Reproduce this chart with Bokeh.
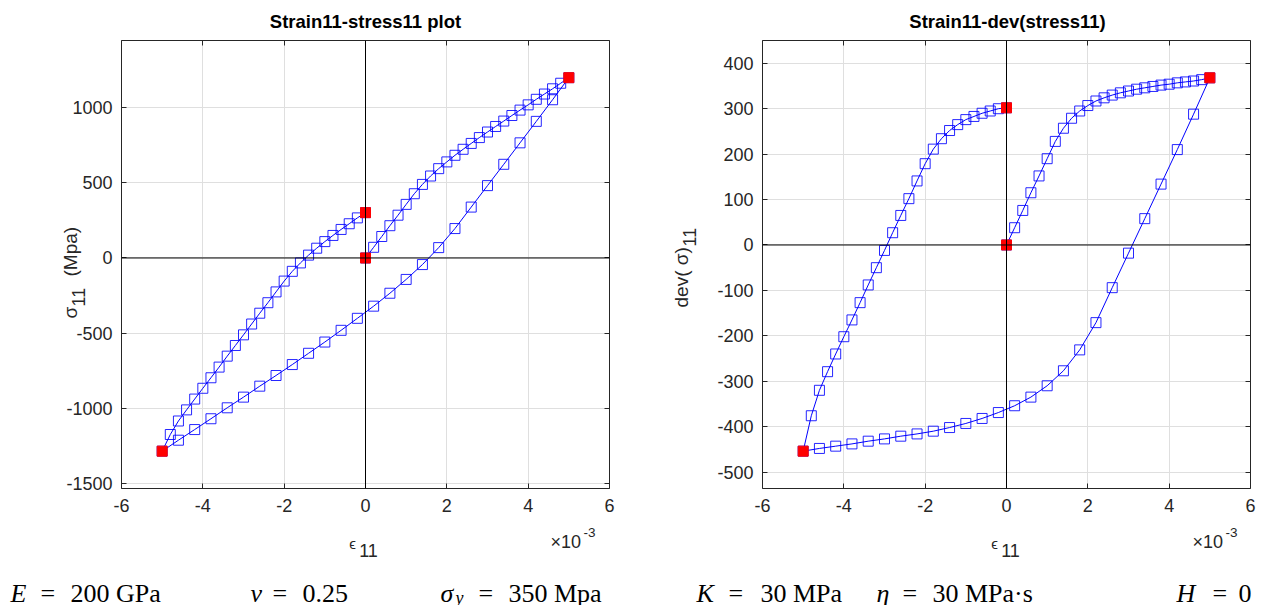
import math
from bokeh.plotting import figure
from bokeh.models import LinearAxis, FixedTicker, Span, Label, Range1d, GridBox
from bokeh.layouts import column
from bokeh.embed import file_html
from bokeh.resources import INLINE

# ---------------- data (strain in units of 1e-3, stress in MPa) ----------------
strain_load = [0.0, 0.2, 0.4, 0.6, 0.8, 1.0, 1.2, 1.4, 1.6, 1.8, 2.0, 2.2, 2.4, 2.6,
               2.8, 3.0, 3.2, 3.4, 3.6, 3.8, 4.0, 4.2, 4.4, 4.6, 4.8, 5.0]
strain_unload = [4.6, 4.2, 3.8, 3.4, 3.0, 2.6, 2.2, 1.8, 1.4, 1.0, 0.6, 0.2, -0.2,
                 -0.6, -1.0, -1.4, -1.8, -2.2, -2.6, -3.0, -3.4, -3.8, -4.2, -4.6, -5.0]
strain_reload = [-4.8, -4.6, -4.4, -4.2, -4.0, -3.8, -3.6, -3.4, -3.2, -3.0, -2.8, -2.6,
                 -2.4, -2.2, -2.0, -1.8, -1.6, -1.4, -1.2, -1.0, -0.8, -0.6, -0.4, -0.2, 0.0]

stress_load = [0, 71, 143, 215, 285, 357, 428, 490, 546, 595, 640, 684, 724, 763,
               802, 839, 876, 912, 949, 985, 1020, 1057, 1092, 1127, 1164, 1201]
stress_unload = [1054, 910, 767, 624, 482, 339, 196, 69, -44, -143, -235, -321, -402,
                 -482, -560, -635, -710, -783, -854, -927, -998, -1071, -1143, -1214, -1287]
stress_reload = [-1176, -1086, -1012, -940, -868, -798, -727, -654, -583, -512, -440, -368,
                 -298, -226, -154, -89, -33, 19, 65, 109, 150, 190, 228, 267, 302]

dev_load = [0, 38, 76, 115, 152, 190, 228, 257, 279, 295, 307, 317, 324, 330,
            335, 339, 343, 346, 349, 352, 354, 357, 359, 361, 364, 368]
dev_unload = [288, 210, 134, 58, -18, -94, -171, -231, -277, -310, -335, -354, -369,
              -382, -393, -402, -410, -416, -421, -427, -432, -438, -443, -448, -454]
dev_reload = [-376, -320, -279, -240, -202, -165, -127, -88, -50, -12, 27, 65,
              102, 141, 179, 211, 234, 252, 265, 276, 283, 290, 295, 300, 302]

x_ticks = [-6, -4, -2, 0, 2, 4, 6]
stress_ticks = [-1500, -1000, -500, 0, 500, 1000]
dev_ticks = [-500, -400, -300, -200, -100, 0, 100, 200, 300, 400]
stress_lim = (-1535.7, 1448.7)
dev_lim = (-536.2, 450.2)

# ---------------- style ----------------
AX = "#262626"
GRID = "#dfdfdf"
SANS = "Liberation Sans"
SERIF = "Liberation Serif"
W, H = 1264, 605
FRAME_TOP = 40
FRAME_BOTTOM = 488


def tick_text(ticks):
    return {t: str(t) for t in ticks}


def make_fig(width, ml, mr, ylim, yticks):
    p = figure(width=width, height=H, x_range=Range1d(-6, 6), y_range=Range1d(*ylim),
               output_backend="svg", toolbar_location=None, title=None,
               min_border_left=ml, min_border_right=mr,
               min_border_top=FRAME_TOP, min_border_bottom=H - FRAME_BOTTOM)
    p.outline_line_color = None
    p.background_fill_color = "white"
    p.border_fill_color = "white"
    p.xaxis.ticker = FixedTicker(ticks=x_ticks)
    p.yaxis.ticker = FixedTicker(ticks=yticks)
    p.xaxis.major_label_overrides = tick_text(x_ticks)
    p.yaxis.major_label_overrides = tick_text(yticks)
    for ax in (p.xaxis[0], p.yaxis[0]):
        ax.axis_line_color = AX
        ax.major_tick_line_color = AX
        ax.major_tick_in = 5
        ax.major_tick_out = 0
        ax.minor_tick_line_color = None
        ax.major_label_text_font = SANS
        ax.major_label_text_font_size = "18px"
        ax.major_label_text_color = AX
    p.xaxis[0].major_label_standoff = 10
    p.yaxis[0].major_label_standoff = 9
    p.xgrid.grid_line_color = GRID
    p.ygrid.grid_line_color = GRID
    for loc, ticks in (("above", x_ticks), ("right", yticks)):
        ax = LinearAxis(ticker=FixedTicker(ticks=ticks), axis_line_color=AX,
                        major_tick_line_color=AX, major_tick_in=5, major_tick_out=0,
                        minor_tick_line_color=None, major_label_text_color=None,
                        major_label_text_font_size="1px", major_label_standoff=0)
        p.add_layout(ax, loc)
    p.add_layout(Span(location=0, dimension="width", line_color="black", line_width=1))
    p.add_layout(Span(location=0, dimension="height", line_color="black", line_width=1))
    return p


def add_curve(p, xs, ys):
    p.line(xs, ys, line_color="blue", line_width=1)
    p.scatter(xs, ys, marker="square", size=10, fill_color=None, line_color="blue",
              line_width=1, line_alpha=0.85)


def red_points(p, xs, ys):
    p.scatter(xs, ys, marker="square", size=10, fill_color="red", line_color="red")


all_x = strain_load + strain_unload + strain_reload

# ---------------- left figure ----------------
p1 = make_fig(649, 121, 40, stress_lim, stress_ticks)
add_curve(p1, all_x, stress_load + stress_unload + stress_reload)
red_points(p1, [strain_load[0], strain_load[-1], strain_unload[-1], strain_reload[-1]],
           [stress_load[0], stress_load[-1], stress_unload[-1], stress_reload[-1]])

# ---------------- right figure ----------------
p2 = make_fig(615, 113, 14, dev_lim, dev_ticks)
add_curve(p2, all_x, dev_load + dev_unload + dev_reload)
red_points(p2, [strain_load[0], strain_load[-1], strain_unload[-1], strain_reload[-1]],
           [dev_load[0], dev_load[-1], dev_unload[-1], dev_reload[-1]])

# ---------------- transparent text overlay (page pixel coordinates) ----------------
ov = figure(width=W, height=H, x_range=Range1d(0, W), y_range=Range1d(H, 0),
            output_backend="svg", toolbar_location=None, title=None,
            x_axis_location=None, y_axis_location=None,
            min_border_left=0, min_border_right=0, min_border_top=0, min_border_bottom=0)
ov.background_fill_color = None
ov.border_fill_color = None
ov.outline_line_color = None
ov.grid.visible = False


def put(text, px, py, size="17px", font=SANS, style="normal", align="center",
        baseline="middle", angle=0.0, color=AX):
    ov.add_layout(Label(x=px, y=py, text=text, text_font=font, text_font_size=size,
                        text_font_style=style, text_align=align, text_baseline=baseline,
                        angle=angle, text_color=color))


# titles
put("Strain11-stress11 plot", 365, 21, size="18.5px", style="bold", color="black")
put("Strain11-dev(stress11)", 1007, 21, size="18.5px", style="bold", color="black")
# x labels and exponent
for cx, ex in ((365, 550), (1007, 1192)):
    put("ϵ", cx - 13, 543, size="15px")
    put("11", cx + 3, 550, size="18px")
    put("×10", ex, 541, size="18px", align="left")
    put("-3", ex + 33, 532, size="13.5px", align="left")
# y labels
put("σ", 70, 318, size="19px", align="left", angle=math.pi / 2)
put("11", 78, 306, size="18px", align="left", angle=math.pi / 2)
put("(Mpa)", 70, 276, size="19px", align="left", angle=math.pi / 2)
put("dev( σ)", 681, 307, size="19px", align="left", angle=math.pi / 2)
put("11", 689, 246, size="18px", align="left", angle=math.pi / 2)

# parameter line
BASE = 593
TS = "26px"
params = [("E", 10, "italic"), ("=", 40, "normal"), ("200 GPa", 70, "normal"),
          ("ν", 250, "italic"), ("=", 272, "normal"), ("0.25", 302, "normal"),
          ("σ", 440, "italic"), ("=", 478, "normal"), ("350 Mpa", 508, "normal"),
          ("K", 696, "italic"), ("=", 728, "normal"), ("30 MPa", 760, "normal"),
          ("η", 876, "italic"), ("=", 902, "normal"), ("30 MPa·s", 932, "normal"),
          ("H", 1176, "italic"), ("=", 1212, "normal"), ("0", 1238, "normal")]
for t, x, st in params:
    put(t, x, BASE, size=TS, font=SERIF, style=st, align="left", baseline="alphabetic",
        color="black")
put("y", 455, BASE + 4, size="18px", font=SERIF, style="italic", align="left",
    baseline="alphabetic", color="black")

layout = GridBox(children=[(p1, 0, 0), (p2, 0, 1), (column(ov), 0, 0, 1, 2)])
open("out.html", "w").write(file_html(layout, INLINE))
